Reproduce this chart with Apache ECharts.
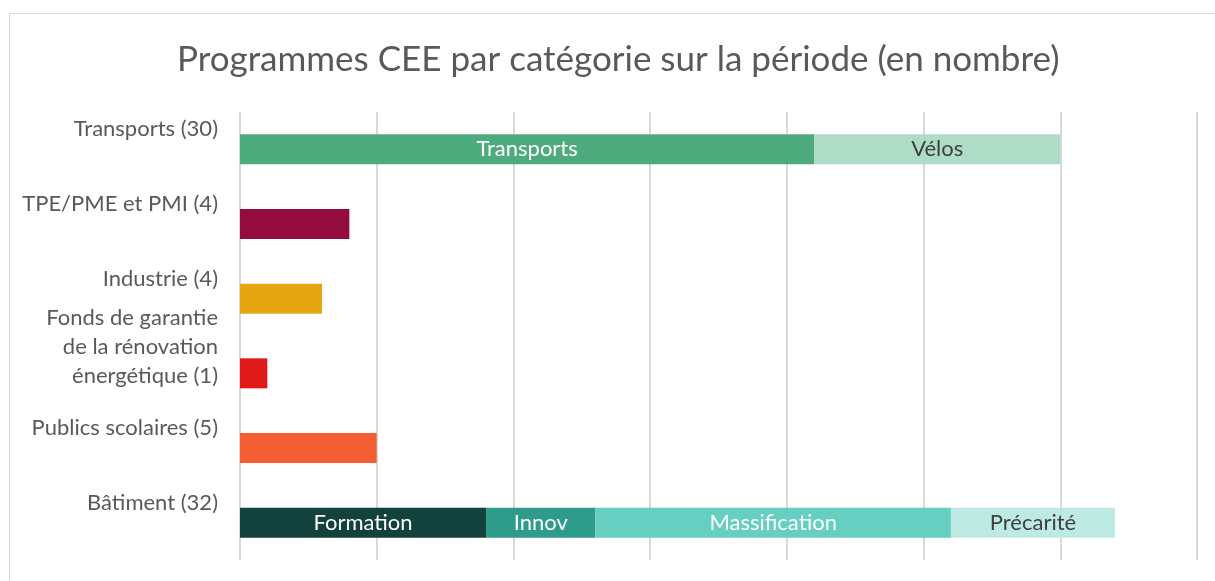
<!DOCTYPE html>
<html>
<head>
	<meta charset="utf-8">
	<title>Programmes CEE par catégorie</title>
	<style type="text/css">
		html, body {
			margin: 0;
			padding: 0;
			width: 100%;
			height: 100%;
			background: #ffffff;
			overflow: hidden;
		}
		#frame {
			position: absolute;
			left: 9px;
			top: 13px;
			right: -2px;
			bottom: -2px;
			border: 1px solid #d9d9d9;
		}
		#main {
			position: absolute;
			left: 0;
			top: 0;
			width: 1215px;
			height: 581px;
		}
	</style>
</head>
<body>
<div id="frame"></div>
<div id="main"></div>
<script src="https://cdn.jsdelivr.net/npm/echarts@6/dist/echarts.min.js"></script>
<script>
    // catégories (de haut en bas)
    var categories = ['Transports (30)', 'TPE/PME et PMI (4)', 'Industrie (4)',
        'Fonds de garantie\nde la rénovation\nénergétique (1)', 'Publics scolaires (5)', 'Bâtiment (32)'];

    // segments : nom, index de catégorie, valeur
    var segNames  = ['Transports', 'Vélos', 'TPE/PME et PMI', 'Industrie', 'Fonds', 'Publics scolaires',
        'Formation', 'Innov', 'Massification', 'Précarité'];
    var segCat    = [0, 0, 1, 2, 3, 4, 5, 5, 5, 5];
    var segValues = [21, 9, 4, 3, 1, 5, 9, 4, 13, 6];
    var segLabels = [true, true, false, false, false, false, true, true, true, true];
    var segColors = ['#4dab7d', '#aedcc6', '#960b3d', '#e4a712', '#e01818', '#f55e35',
        '#13413b', '#2e9b8b', '#66cfc1', '#bdebe4'];
    var segLabelColors = ['#ffffff', '#404040', '#fff', '#fff', '#fff', '#fff',
        '#ffffff', '#ffffff', '#ffffff', '#404040'];

    var series = [];
    for (var i = 0; i < segNames.length; i++) {
        var data = [];
        for (var c = 0; c < categories.length; c++) {
            data.push(c == segCat[i] ? segValues[i] : '-');
        }
        series.push({
            name: segNames[i],
            type: 'bar',
            stack: 'total',
            barWidth: 30,
            data: data,
            itemStyle: { color: segColors[i] },
            label: {
                show: segLabels[i],
                position: 'inside',
                formatter: segNames[i],
                color: segLabelColors[i],
                fontFamily: 'Lato',
                fontSize: 22
            }
        });
    }

    // libellés décalés vers le haut (ligne vide en dessous)
    function catLabel(value) {
        var lines = value.split('\n');
        if (lines.length == 1) {
            return '{s|' + value + '}\n{s| }';
        }
        var out = [];
        for (var k = 0; k < lines.length; k++) out.push('{m|' + lines[k] + '}');
        out.push('{b| }');
        out.push('{b| }');
        return out.join('\n');
    }

    var myChart = echarts.init(document.getElementById('main'));
    var option = {
        animation: false,
        title: {
            text: 'Programmes CEE par catégorie sur la période (en nombre)',
            left: 172,
            top: 37,
            textStyle: {
                color: '#595959',
                fontFamily: 'Lato',
                fontWeight: 'normal',
                fontSize: 35
            }
        },
        grid: {
            left: 240,
            right: 18,
            top: 112,
            bottom: 21
        },
        xAxis: {
            type: 'value',
            min: 0,
            max: 35,
            interval: 5,
            axisLabel: { show: false },
            axisLine: { show: false },
            axisTick: { show: false },
            splitLine: { lineStyle: { color: '#d9d9d9', width: 2 } }
        },
        yAxis: {
            type: 'category',
            inverse: true,
            data: categories,
            axisLine: { show: false },
            axisTick: { show: false },
            axisLabel: {
                color: '#595959',
                fontFamily: 'Lato',
                fontSize: 22,
                align: 'right',
                margin: 22,
                formatter: catLabel,
                rich: {
                    s: { color: '#595959', fontFamily: 'Lato', fontSize: 22, lineHeight: 40, align: 'right' },
                    m: { color: '#595959', fontFamily: 'Lato', fontSize: 22, lineHeight: 29, align: 'right' },
                    b: { fontSize: 10, lineHeight: 26, align: 'right' }
                }
            }
        },
        series: series
    };
    myChart.setOption(option);
</script>
</body>
</html>
